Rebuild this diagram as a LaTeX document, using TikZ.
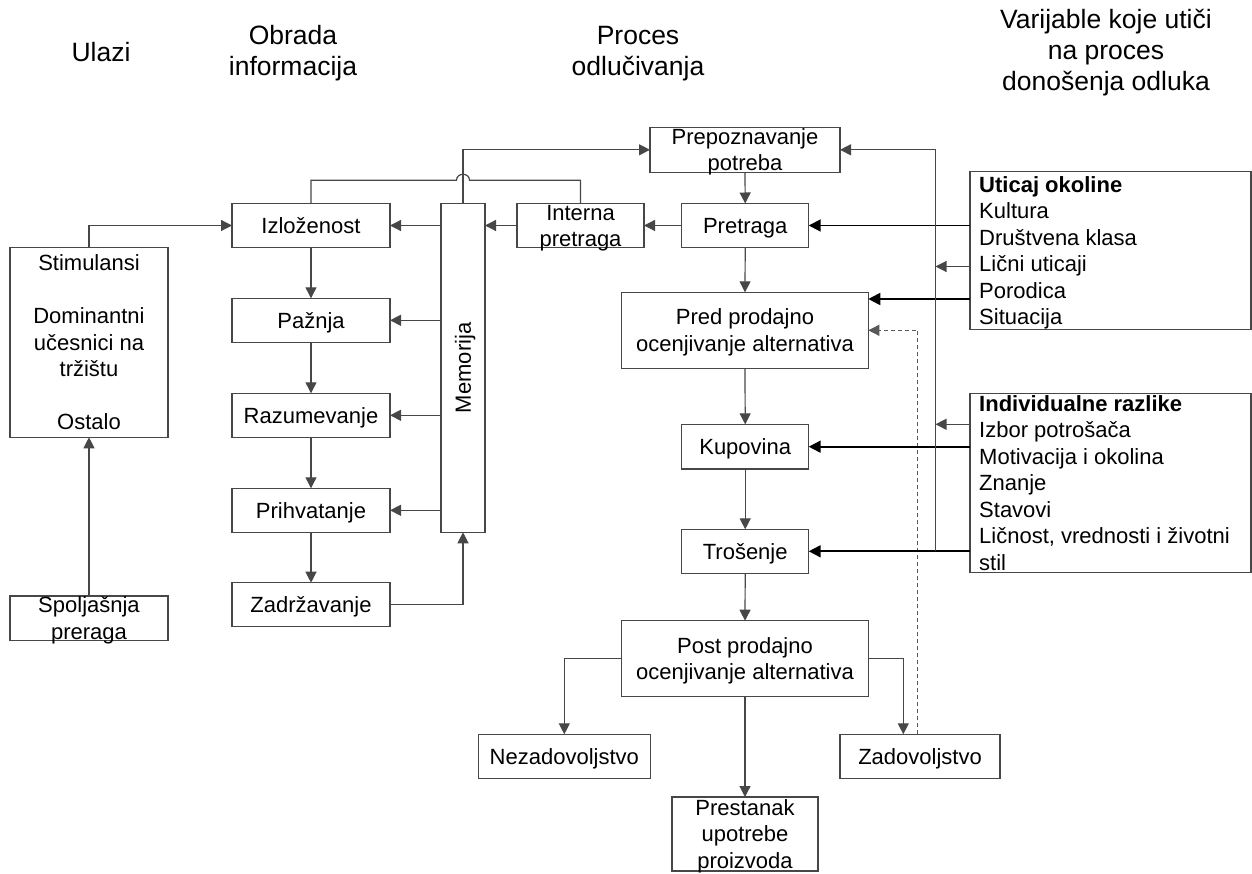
\documentclass[tikz,border=0pt]{standalone}
\usepackage{fontspec}
\setmainfont{Liberation Sans}
\usetikzlibrary{arrows.meta}
\newcommand\bodyfont{\fontsize{22}{26.5}\selectfont}
\newcommand\headfont{\fontsize{26.5}{31}\selectfont}
% box with its label: name, centre, width, height, label style, text
\newcommand\bx[6]{%
  \node[box, minimum width=#3, minimum height=#4] (#1) at (#2) {};
  \node[txt, #5] (#1-t) at (#1.center) {#6};}

\begin{document}
\begin{tikzpicture}[x=1pt,y=-1pt,
  ln/.style={draw=black!72, line width=1.2pt},
  box/.style={ln, rectangle, inner sep=0pt, outer sep=0pt},
  % the text block runs from the cap height of its first line to the
  % baseline of its last line, so that it sits centred in its box
  txt/.style={font=\bodyfont, align=center, inner sep=0pt,
              text height=15.8pt, text depth=0pt},
  l2/.style={text height=42.3pt},
  l3/.style={text height=68.8pt},
  l6/.style={text height=148.3pt},
  l7/.style={text height=174.8pt},
  head/.style={font=\headfont, align=center, inner sep=0pt},
  arr/.style={ln, -{Triangle[length=11pt,width=11pt]}},
  barr/.style={draw=black, line width=1.8pt, -{Triangle[length=12pt,width=12pt]}},
  darr/.style={draw=black!65, line width=1pt, dash pattern=on 4pt off 3pt,
               -{Triangle[length=11pt,width=11pt]}},
]
\useasboundingbox (0,0) rectangle (1252,874);

% column headings
\node[head] (h1) at (101,52) {Ulazi};
\node[head] (h2) at (293,53.5) {Obrada\\informacija};
\node[head] (h3) at (638,53.5) {Proces\\odlučivanja};
\node[head] (h4) at (1106,53) {Varijable koje utiči\\na proces\\donošenja odluka};

% inputs
\bx{stim}{89,342.5}{158}{189.6}{l7}{Stimulansi\\[26.5pt]Dominantni\\učesnici na\\tržištu\\[26.5pt]Ostalo}
\bx{spolj}{89,618.3}{158}{44.7}{l2}{Spoljašnja\\preraga}

% information processing
\bx{izl}{311,225.5}{158}{44}{}{Izloženost}
\bx{paz}{311,320.3}{158}{44}{}{Pažnja}
\bx{raz}{311,415.3}{158}{44}{}{Razumevanje}
\bx{pri}{311,510.3}{158}{44}{}{Prihvatanje}
\bx{zad}{311,604.7}{158}{44}{}{Zadržavanje}
\node[box, minimum width=44, minimum height=329] (mem) at (463,367.8) {};
\node[txt, rotate=90] (mem-t) at (mem.center) {Memorija};
\bx{intp}{580.5,225.5}{127}{44}{l2}{Interna\\pretraga}

% decision process
\bx{prep}{745,149.8}{190}{45}{l2}{Prepoznavanje\\potreba}
\bx{pret}{745.2,225.5}{127}{44}{}{Pretraga}
\bx{pred}{745,330.3}{246.6}{76}{l2}{Pred prodajno\\ocenjivanje alternativa}
\bx{kup}{745.2,446.7}{127}{44.7}{}{Kupovina}
\bx{tros}{745.2,551.3}{127}{44}{}{Trošenje}
\bx{post}{745,658.7}{246.6}{76}{l2}{Post prodajno\\ocenjivanje alternativa}
\bx{nez}{564.3,756.3}{172}{44}{}{Nezadovoljstvo}
\bx{zadov}{920,756.5}{160}{44.5}{}{Zadovoljstvo}
\bx{prest}{745,834}{146}{74}{l3}{Prestanak\\upotrebe\\proizvoda}

% influencing variables
\node[box, minimum width=281, minimum height=157.6] (utic) at (1110.5,250.5) {};
\node[txt, l6, align=left, anchor=west] (utic-t) at ([xshift=9pt]utic.west)
  {\textbf{Uticaj okoline}\\Kultura\\Društvena klasa\\Lični uticaji\\Porodica\\Situacija};
\node[box, minimum width=281, minimum height=179.4] (indiv) at (1110.5,483) {};
\node[txt, l7, align=left, anchor=west] (indiv-t) at ([xshift=9pt]indiv.west)
  {\textbf{Individualne razlike}\\Izbor potrošača\\Motivacija i okolina\\Znanje\\Stavovi\\Ličnost, vrednosti i životni\\stil};

% helper coordinates
\coordinate (hopL) at (456.5,180.3);
\coordinate (hopR) at (469.5,180.3);
\coordinate (busx) at (935.5,0);
\coordinate (yLic) at (0,266.5);
\coordinate (yPor) at (0,299);
\coordinate (yIzb) at (0,424.3);

% information processing flow
\draw[arr] (spolj.north) -- (stim.south);
\draw[arr] (stim.north) |- (izl.west);
\draw[arr] (izl.south) -- (paz.north);
\draw[arr] (paz.south) -- (raz.north);
\draw[arr] (raz.south) -- (pri.north);
\draw[arr] (pri.south) -- (zad.north);
\draw[arr] (mem.west |- izl.east) -- (izl.east);
\draw[arr] (mem.west |- paz.east) -- (paz.east);
\draw[arr] (mem.west |- raz.east) -- (raz.east);
\draw[arr] (mem.west |- pri.east) -- (pri.east);
\draw[arr] (zad.east) -| (mem.south);
\draw[arr] (intp.west) -- (mem.east |- intp.west);
\draw[arr] (pret.west) -- (intp.east);
\draw[arr] (mem.north) |- (prep.west);
\draw[ln] (izl.north) |- (hopL) .. controls +(0,-8) and +(0,-8) .. (hopR) -| (intp.north);

% decision process flow
\draw[arr] (prep.south) -- (pret.north);
\draw[arr] (pret.south) -- (pred.north);
\draw[arr] (pred.south) -- (kup.north);
\draw[arr] (kup.south) -- (tros.north);
\draw[arr] (tros.south) -- (post.north);
\draw[arr] (post.south) -- (prest.north);
\draw[arr] (post.west) -| (nez.north);
\draw[arr] (post.east) -| ([xshift=-16.7pt]zadov.north);
\draw[darr] ([xshift=-2.3pt]zadov.north) |- (pred.east);

% influences
\draw[barr] (utic.west |- pret.east) -- (pret.east);
\draw[barr] (utic.west |- yPor) -- (pred.east |- yPor);
\draw[barr] (indiv.west |- kup.east) -- (kup.east);
\draw[barr] (indiv.west |- tros.east) -- (tros.east);
\draw[arr] (utic.west |- yLic) -- (busx |- yLic);
\draw[arr] (indiv.west |- yIzb) -- (busx |- yIzb);
\draw[arr] (busx |- tros.east) |- (prep.east);
\end{tikzpicture}
\end{document}
